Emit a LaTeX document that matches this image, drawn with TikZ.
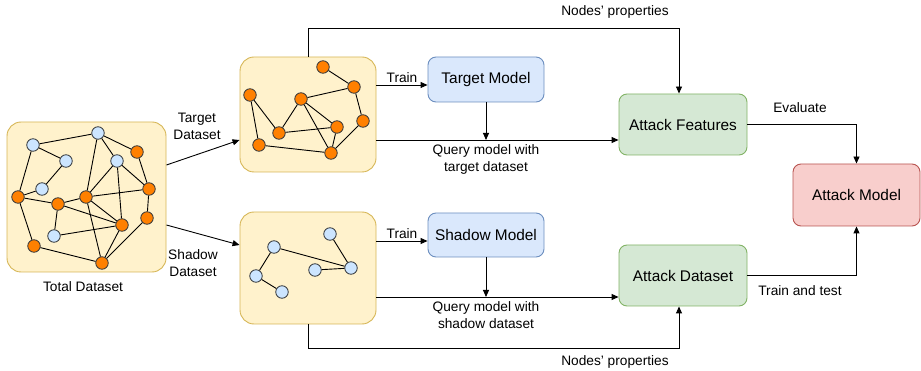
\documentclass[tikz,border=0pt]{standalone}
\usepackage{fontspec}
\setmainfont{Liberation Sans}
\usetikzlibrary{arrows.meta,calc}

\definecolor{dsfill}{HTML}{FFF2CC}
\definecolor{dsline}{HTML}{D6B656}
\definecolor{mfill}{HTML}{DAE8FC}
\definecolor{mline}{HTML}{6C8EBF}
\definecolor{afill}{HTML}{D5E8D4}
\definecolor{aline}{HTML}{82B366}
\definecolor{rfill}{HTML}{F8CECC}
\definecolor{rline}{HTML}{B85450}
\definecolor{vorange}{HTML}{FF8000}
\definecolor{vblue}{HTML}{CCE5FF}
\definecolor{vline}{HTML}{36393D}

\begin{document}
\begin{tikzpicture}[x=1pt,y=-1pt,line width=0.9pt,
	arr/.style={-{Triangle[length=7pt,width=6pt]}},
	every node/.style={font=\fontsize{13.7}{17}\selectfont,align=center},
	dataset/.style={draw=dsline,fill=dsfill,rounded corners=14pt,minimum width=136pt},
	model/.style={draw,rounded corners=8pt,font=\fontsize{15.4}{18}\selectfont},
	onode/.style={circle,draw=vline,fill=vorange,minimum size=12.5pt,inner sep=0pt,line width=0.8pt},
	bnode/.style={circle,draw=vline,fill=vblue,minimum size=12.5pt,inner sep=0pt,line width=0.8pt}]
	\useasboundingbox (0,0) rectangle (921,371);

	% data sets
	\node[dataset,minimum width=159pt,minimum height=150pt] (total) at (86.5,197) {};
	\node[dataset,minimum height=115pt] (tdata) at (308,114.5) {};
	\node[dataset,minimum height=112pt] (sdata) at (308,268) {};
	\node (totallbl) at (83,287) {Total Dataset};

	% total graph
	\foreach \n/\x/\y in {g1/33/145, g2/98/133, g3/66/161, g4/117/161, g5/42/189, g6/54/236}
		\node[bnode] (\n) at (\x,\y) {};
	\foreach \n/\x/\y in {g7/137/152, g8/18/197, g9/58/204, g10/86/197, g11/149/189,
		g12/147/218, g13/122/225, g14/34/246, g15/102/263}
		\node[onode] (\n) at (\x,\y) {};
	\foreach \a/\b in {g1/g2, g1/g3, g1/g8, g3/g5, g5/g8, g2/g10, g2/g4, g2/g7, g7/g11,
		g4/g10, g4/g11, g4/g13, g8/g9, g9/g10, g10/g11, g9/g13, g9/g6, g6/g13,
		g14/g8, g14/g15, g10/g13, g10/g15, g13/g15, g12/g15, g11/g12}
		\draw (\a) -- (\b);

	% target graph
	\foreach \n/\x/\y in {t1/323/67, t2/354/87, t3/250/95, t4/301/99, t5/363/121,
		t6/337/127, t7/279/133, t8/259/145, t9/331/153}
		\node[onode] (\n) at (\x,\y) {};
	\foreach \a/\b in {t1/t2, t2/t4, t2/t5, t3/t7, t3/t8, t4/t7, t4/t6, t4/t9,
		t7/t6, t6/t9, t5/t9, t8/t9}
		\draw (\a) -- (\b);

	% shadow graph
	\foreach \n/\x/\y in {s1/330/234, s2/274/247, s3/315/270, s4/351/268, s5/256/276, s6/282/292}
		\node[bnode] (\n) at (\x,\y) {};
	\foreach \a/\b in {s1/s4, s2/s4, s3/s4, s2/s5, s5/s6}
		\draw (\a) -- (\b);

	% models
	\node[model,fill=mfill,draw=mline,minimum width=116pt,minimum height=45pt] (tmodel) at (486,79.5) {Target Model};
	\node[model,fill=mfill,draw=mline,minimum width=116pt,minimum height=44pt] (smodel) at (486,235) {Shadow Model};
	\node[model,fill=afill,draw=aline,minimum width=128pt,minimum height=61pt] (afeat) at (683,124.5) {Attack Features};
	\node[model,fill=afill,draw=aline,minimum width=128pt,minimum height=61pt] (adata) at (683,275.5) {Attack Dataset};
	\node[model,fill=rfill,draw=rline,minimum width=127pt,minimum height=62pt] (amodel) at (856.5,195) {Attack Model};

	% split of the total data set
	\draw[arr] ($(total.east)+(0,-32)$) -- ($(tdata.west)+(0,25.5)$);
	\draw[arr] ($(total.east)+(0,28)$) -- ($(sdata.west)+(0,-23)$);
	\node (tsplit) at (197,126.5) {Target\\Dataset};
	\node (ssplit) at (193,263.5) {Shadow\\Dataset};

	% target side
	\draw[arr] ($(tdata.east)+(0,-29.5)$) -- ($(tmodel.west)+(0,5.5)$) node[midway,above,yshift=-1pt] {Train};
	\coordinate (qt) at ($(tdata.east)+(0,25.5)$);
	\draw[arr] (qt) -- (qt -| afeat.west);
	\draw[arr] (tmodel.south) -- (tmodel.south |- qt);
	\node (qtlbl) at (486,159.5) {Query model with\\target dataset};

	% shadow side
	\draw[arr] ($(sdata.east)+(0,-27)$) -- ($(smodel.west)+(0,6)$) node[midway,above,yshift=-1pt] {Train};
	\coordinate (qs) at ($(sdata.east)+(0,29)$);
	\draw[arr] (qs) -- (qs -| adata.west);
	\draw[arr] (smodel.south) -- (smodel.south |- qs);
	\node (qslbl) at (486,315.5) {Query model with\\shadow dataset};

	% node properties
	\coordinate (npt) at (679,28);
	\coordinate (npb) at (679,348);
	\draw[arr] (tdata.north) |- (npt) -- (npt |- afeat.north);
	\draw[arr] (sdata.south) |- (npb) -- (npb |- adata.south);
	\node (nptlbl) at (615,12) {Nodes' properties};
	\node (npblbl) at (615,362) {Nodes' properties};

	% attack model
	\draw[arr] (afeat.east) -| (amodel.north);
	\draw[arr] (adata.east) -| (amodel.south);
	\node (evallbl) at (800,108) {Evaluate};
	\node (testlbl) at (800,291) {Train and test};
\end{tikzpicture}
\end{document}
